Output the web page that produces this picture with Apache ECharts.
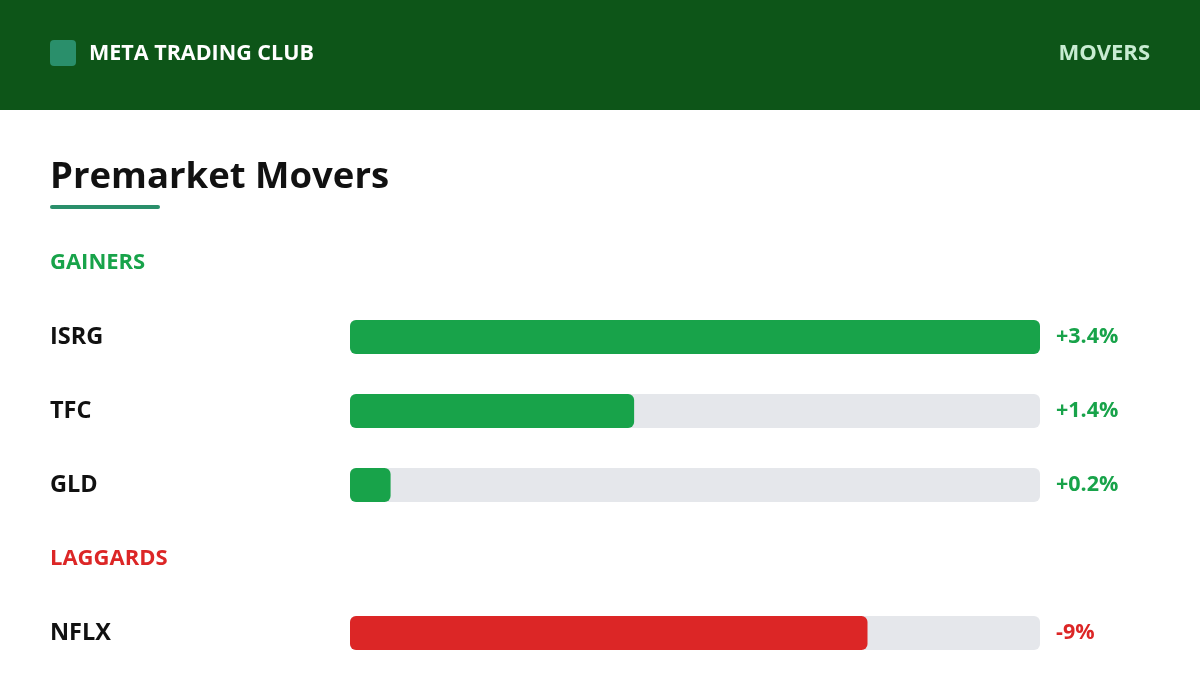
<!DOCTYPE html>
<html>
<head>
<meta charset="utf-8">
<script src="https://cdn.jsdelivr.net/npm/echarts@6/dist/echarts.min.js"></script>
<style>
  html, body { margin: 0; padding: 0; background: #ffffff; }
  #chart { width: 1200px; height: 680px; }
</style>
</head>
<body>
<div id="chart"></div>
<script>
// 数据
const gainerTickers = ['ISRG', 'TFC', 'GLD'];
const gainerValues = [3.4, 1.4, 0.2];
const laggardTickers = ['NFLX'];
const laggardValues = [-9];
// 刻度上限
const gainerMax = 3.4;
const laggardMax = 12;

const FONT = '"Open Sans", Lato, sans-serif';
const GREEN = '#18a34a';
const RED = '#dc2626';
const TRACK = '#e5e7eb';

const fmt = v => (v > 0 ? '+' : '') + v + '%';

const myChart = echarts.init(document.getElementById('chart'), null, { renderer: 'canvas' });

const makeYAxes = (gridIndex, tickers, values, color) => [
  {
    type: 'category',
    gridIndex: gridIndex,
    data: tickers,
    inverse: true,
    axisLine: { show: false },
    axisTick: { show: false },
    axisLabel: {
      align: 'left',
      margin: 300,
      padding: [3, 0, 0, 0],
      color: '#111111',
      fontFamily: FONT,
      fontWeight: 'bold',
      fontSize: 23.5
    }
  },
  {
    type: 'category',
    gridIndex: gridIndex,
    position: 'right',
    data: tickers,
    inverse: true,
    axisLine: { show: false },
    axisTick: { show: false },
    axisLabel: {
      align: 'left',
      margin: 16,
      padding: [3, 0, 0, 0],
      color: color,
      fontFamily: FONT,
      fontWeight: 'bold',
      fontSize: 21.5,
      formatter: (name, idx) => fmt(values[idx])
    }
  }
];

const option = {
  backgroundColor: '#ffffff',
  animation: false,
  graphic: [
    // 顶部栏
    { type: 'rect', shape: { x: 0, y: 0, width: 1200, height: 110 }, style: { fill: '#0d5518' } },
    { type: 'rect', shape: { x: 50, y: 40, width: 26, height: 26, r: 4 }, style: { fill: '#2a8f6b' } },
    { type: 'text', x: 89, y: 54, style: { text: 'META TRADING CLUB', fill: '#ffffff', font: 'bold 21.5px ' + FONT, textVerticalAlign: 'middle' } },
    { type: 'text', x: 1150, y: 54, style: { text: 'MOVERS', fill: '#c8ecd2', font: 'bold 22px ' + FONT, textAlign: 'right', textVerticalAlign: 'middle' } },
    // 标题
    { type: 'text', x: 50, y: 178, style: { text: 'Premarket Movers', fill: '#111111', font: 'bold 36.5px ' + FONT, textVerticalAlign: 'middle' } },
    { type: 'rect', shape: { x: 50, y: 205, width: 110, height: 4, r: 2 }, style: { fill: '#2a8f6b' } },
    // 分组标题
    { type: 'text', x: 50, y: 263, style: { text: 'GAINERS', fill: GREEN, font: 'bold 22px ' + FONT, textVerticalAlign: 'middle' } },
    { type: 'text', x: 50, y: 559, style: { text: 'LAGGARDS', fill: RED, font: 'bold 22px ' + FONT, textVerticalAlign: 'middle' } }
  ],
  grid: [
    { left: 350, width: 690, top: 300, height: 222 },
    { left: 350, width: 690, top: 596, height: 74 }
  ],
  xAxis: [
    { type: 'value', gridIndex: 0, min: 0, max: gainerMax, show: false },
    { type: 'value', gridIndex: 1, min: 0, max: laggardMax, show: false }
  ],
  yAxis: [
    ...makeYAxes(0, gainerTickers, gainerValues, GREEN),
    ...makeYAxes(1, laggardTickers, laggardValues, RED)
  ],
  series: [
    {
      type: 'bar',
      xAxisIndex: 0,
      yAxisIndex: 0,
      data: gainerValues,
      barWidth: 34,
      showBackground: true,
      backgroundStyle: { color: TRACK, borderRadius: 6 },
      itemStyle: { color: GREEN, borderRadius: 6 }
    },
    {
      type: 'bar',
      xAxisIndex: 1,
      yAxisIndex: 2,
      data: laggardValues.map(v => Math.abs(v)),
      barWidth: 34,
      showBackground: true,
      backgroundStyle: { color: TRACK, borderRadius: 6 },
      itemStyle: { color: RED, borderRadius: 6 }
    }
  ]
};

myChart.setOption(option);
window.addEventListener('resize', () => myChart.resize());
</script>
</body>
</html>
